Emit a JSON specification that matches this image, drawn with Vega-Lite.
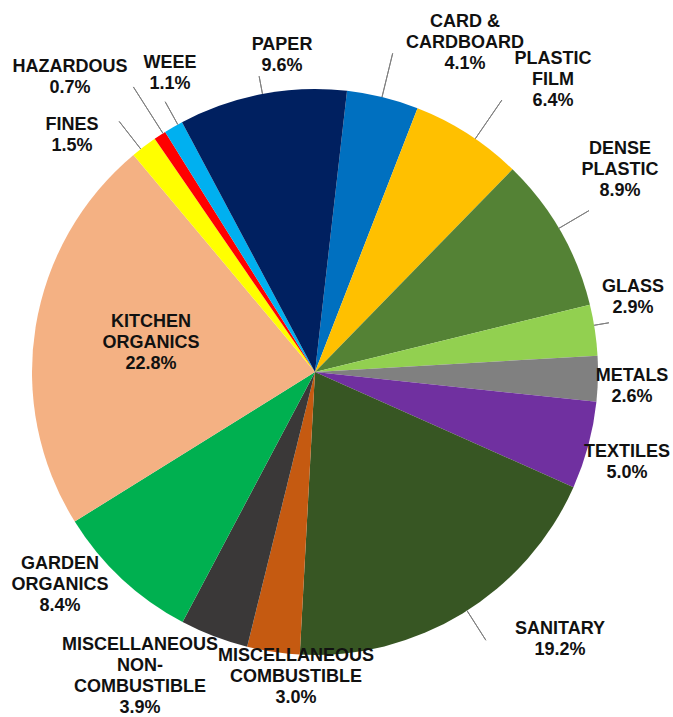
{
  "$schema": "https://vega.github.io/schema/vega-lite/v6.json",
  "width": 630,
  "height": 690,
  "padding": {"left": 0, "top": 27, "right": 43, "bottom": 0},
  "autosize": {"type": "none"},
  "background": "white",
  "config": {
    "view": {"stroke": null},
    "text": {"font": "Liberation Sans", "fontSize": 18, "fontWeight": "bold", "align": "center", "baseline": "middle", "lineHeight": 21, "lineBreak": "\n", "color": "#111111"}
  },
  "data": {
    "values": [
      {"name": "CARD & CARDBOARD", "value": 4.1, "label": "CARD &\nCARDBOARD\n4.1%"},
      {"name": "PLASTIC FILM", "value": 6.4, "label": "PLASTIC\nFILM\n6.4%"},
      {"name": "DENSE PLASTIC", "value": 8.9, "label": "DENSE\nPLASTIC\n8.9%"},
      {"name": "GLASS", "value": 2.9, "label": "GLASS\n2.9%"},
      {"name": "METALS", "value": 2.6, "label": "METALS\n2.6%"},
      {"name": "TEXTILES", "value": 5.0, "label": "TEXTILES\n5.0%"},
      {"name": "SANITARY", "value": 19.2, "label": "SANITARY\n19.2%"},
      {"name": "MISCELLANEOUS COMBUSTIBLE", "value": 3.0, "label": "MISCELLANEOUS\nCOMBUSTIBLE\n3.0%"},
      {"name": "MISCELLANEOUS NON-COMBUSTIBLE", "value": 3.9, "label": "MISCELLANEOUS\nNON-\nCOMBUSTIBLE\n3.9%"},
      {"name": "GARDEN ORGANICS", "value": 8.4, "label": "GARDEN\nORGANICS\n8.4%"},
      {"name": "KITCHEN ORGANICS", "value": 22.8, "label": "KITCHEN\nORGANICS\n22.8%"},
      {"name": "FINES", "value": 1.5, "label": "FINES\n1.5%"},
      {"name": "HAZARDOUS", "value": 0.7, "label": "HAZARDOUS\n0.7%"},
      {"name": "WEEE", "value": 1.1, "label": "WEEE\n1.1%"},
      {"name": "PAPER", "value": 9.6, "label": "PAPER\n9.6%"}
    ]
  },
  "transform": [
    {"window": [{"op": "row_number", "as": "idx"}]},
    {"stack": "value", "groupby": [], "sort": [{"field": "idx", "order": "ascending"}], "as": ["v0", "v1"]}
  ],
  "encoding": {
    "theta": {"field": "v0", "type": "quantitative", "stack": null, "scale": {"type": "linear", "domain": [0, 100.1], "range": [0.1134, 6.3966]}}
  },
  "layer": [
    {
      "mark": {"type": "arc", "outerRadius": 283, "innerRadius": 0},
      "encoding": {
        "theta2": {"field": "v1"},
        "color": {"field": "name", "type": "nominal", "legend": null, "scale": {
          "domain": ["CARD & CARDBOARD", "PLASTIC FILM", "DENSE PLASTIC", "GLASS", "METALS", "TEXTILES", "SANITARY", "MISCELLANEOUS COMBUSTIBLE", "MISCELLANEOUS NON-COMBUSTIBLE", "GARDEN ORGANICS", "KITCHEN ORGANICS", "FINES", "HAZARDOUS", "WEEE", "PAPER"],
          "range": ["#0070C0", "#FFC000", "#548235", "#92D050", "#808080", "#7030A0", "#375623", "#C55A11", "#3A3838", "#00B050", "#F4B183", "#FFFF00", "#FF0000", "#00B0F0", "#002060"]}}
      }
    },
    {"transform": [{"filter": {"field": "name", "equal": "PAPER"}}], "mark": {"type": "arc", "innerRadius": 283, "outerRadius": 301, "thetaOffset": 0.3025, "theta2Offset": 0.3025, "filled": false, "color": "#7f7f7f", "strokeWidth": 1}, "encoding": {"theta2": {"field": "v0"}}},
    {"transform": [{"filter": {"field": "name", "equal": "WEEE"}}], "mark": {"type": "arc", "innerRadius": 283, "outerRadius": 309, "thetaOffset": 0.052, "theta2Offset": 0.052, "filled": false, "color": "#7f7f7f", "strokeWidth": 1}, "encoding": {"theta2": {"field": "v0"}}},
    {"transform": [{"filter": {"field": "name", "equal": "HAZARDOUS"}}], "mark": {"type": "arc", "innerRadius": 283, "outerRadius": 338, "thetaOffset": 0.0349, "theta2Offset": 0.0349, "filled": false, "color": "#7f7f7f", "strokeWidth": 1}, "encoding": {"theta2": {"field": "v0"}}},
    {"transform": [{"filter": {"field": "name", "equal": "FINES"}}], "mark": {"type": "arc", "innerRadius": 283, "outerRadius": 318, "thetaOffset": 0.033, "theta2Offset": 0.033, "filled": false, "color": "#7f7f7f", "strokeWidth": 1}, "encoding": {"theta2": {"field": "v0"}}},
    {"transform": [{"filter": {"field": "name", "equal": "CARD & CARDBOARD"}}], "mark": {"type": "arc", "innerRadius": 283, "outerRadius": 328, "thetaOffset": 0.1257, "theta2Offset": 0.1257, "filled": false, "color": "#7f7f7f", "strokeWidth": 1}, "encoding": {"theta2": {"field": "v0"}}},
    {"transform": [{"filter": {"field": "name", "equal": "PLASTIC FILM"}}], "mark": {"type": "arc", "innerRadius": 283, "outerRadius": 330, "thetaOffset": 0.2313, "theta2Offset": 0.2313, "filled": false, "color": "#7f7f7f", "strokeWidth": 1}, "encoding": {"theta2": {"field": "v0"}}},
    {"transform": [{"filter": {"field": "name", "equal": "DENSE PLASTIC"}}], "mark": {"type": "arc", "innerRadius": 283, "outerRadius": 318, "thetaOffset": 0.266, "theta2Offset": 0.266, "filled": false, "color": "#7f7f7f", "strokeWidth": 1}, "encoding": {"theta2": {"field": "v0"}}},
    {"transform": [{"filter": {"field": "name", "equal": "GLASS"}}], "mark": {"type": "arc", "innerRadius": 283, "outerRadius": 298, "thetaOffset": 0.0738, "theta2Offset": 0.0738, "filled": false, "color": "#7f7f7f", "strokeWidth": 1}, "encoding": {"theta2": {"field": "v0"}}},
    {"transform": [{"filter": {"field": "name", "equal": "SANITARY"}}], "mark": {"type": "arc", "innerRadius": 283, "outerRadius": 318, "thetaOffset": 0.5842, "theta2Offset": 0.5842, "filled": false, "color": "#7f7f7f", "strokeWidth": 1}, "encoding": {"theta2": {"field": "v0"}}},
    {"transform": [{"filter": {"field": "name", "equal": "CARD & CARDBOARD"}}], "mark": {"type": "text", "radius": 361.6, "thetaOffset": 0.3143, "dy": -21}, "encoding": {"text": {"field": "label"}}},
    {"transform": [{"filter": {"field": "name", "equal": "PLASTIC FILM"}}], "mark": {"type": "text", "radius": 376.7, "thetaOffset": 0.3131, "dy": -21}, "encoding": {"text": {"field": "label"}}},
    {"transform": [{"filter": {"field": "name", "equal": "DENSE PLASTIC"}}], "mark": {"type": "text", "radius": 365.8, "thetaOffset": 0.2134, "dy": -21}, "encoding": {"text": {"field": "label"}}},
    {"transform": [{"filter": {"field": "name", "equal": "GLASS"}}], "mark": {"type": "text", "radius": 326.5, "thetaOffset": 0.011, "dy": -10.5}, "encoding": {"text": {"field": "label"}}},
    {"transform": [{"filter": {"field": "name", "equal": "METALS"}}], "mark": {"type": "text", "radius": 317.4, "thetaOffset": 0.1049, "dy": -10.5}, "encoding": {"text": {"field": "label"}}},
    {"transform": [{"filter": {"field": "name", "equal": "TEXTILES"}}], "mark": {"type": "text", "radius": 325.0, "thetaOffset": 0.1782, "dy": -10.5}, "encoding": {"text": {"field": "label"}}},
    {"transform": [{"filter": {"field": "name", "equal": "SANITARY"}}], "mark": {"type": "text", "radius": 362.4, "thetaOffset": 0.4089, "dy": -10.5}, "encoding": {"text": {"field": "label"}}},
    {"transform": [{"filter": {"field": "name", "equal": "MISCELLANEOUS COMBUSTIBLE"}}], "mark": {"type": "text", "radius": 305.6, "thetaOffset": 0.0084, "dy": -21}, "encoding": {"text": {"field": "label"}}},
    {"transform": [{"filter": {"field": "name", "equal": "MISCELLANEOUS NON-COMBUSTIBLE"}}], "mark": {"type": "text", "radius": 350.8, "thetaOffset": 0.2803, "dy": -31.5}, "encoding": {"text": {"field": "label"}}},
    {"transform": [{"filter": {"field": "name", "equal": "GARDEN ORGANICS"}}], "mark": {"type": "text", "radius": 332.3, "thetaOffset": 0.388, "dy": -21}, "encoding": {"text": {"field": "label"}}},
    {"transform": [{"filter": {"field": "name", "equal": "KITCHEN ORGANICS"}}], "mark": {"type": "text", "radius": 166.5, "thetaOffset": 0.7316, "dy": -21}, "encoding": {"text": {"field": "label"}}},
    {"transform": [{"filter": {"field": "name", "equal": "FINES"}}], "mark": {"type": "text", "radius": 339.4, "thetaOffset": -0.1016, "dy": -10.5}, "encoding": {"text": {"field": "label"}}},
    {"transform": [{"filter": {"field": "name", "equal": "HAZARDOUS"}}], "mark": {"type": "text", "radius": 383.1, "thetaOffset": -0.0918, "dy": -10.5}, "encoding": {"text": {"field": "label"}}},
    {"transform": [{"filter": {"field": "name", "equal": "WEEE"}}], "mark": {"type": "text", "radius": 331.4, "thetaOffset": 0.1054, "dy": -10.5}, "encoding": {"text": {"field": "label"}}},
    {"transform": [{"filter": {"field": "name", "equal": "PAPER"}}], "mark": {"type": "text", "radius": 318.2, "thetaOffset": 0.3854, "dy": -10.5}, "encoding": {"text": {"field": "label"}}}
  ]
}
